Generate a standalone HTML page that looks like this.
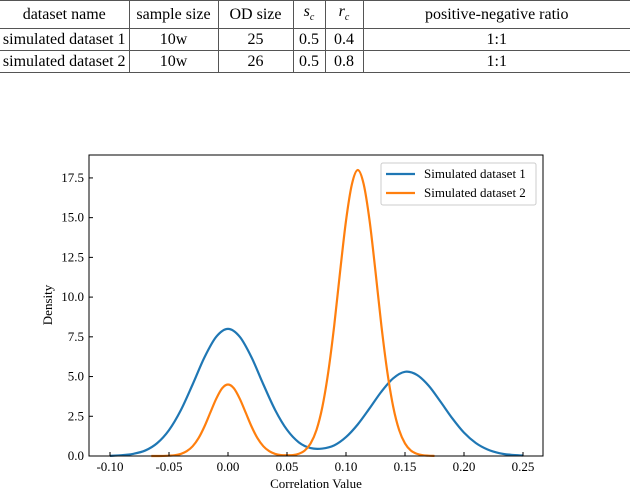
<!DOCTYPE html>
<html><head><meta charset="utf-8"><style>
body{margin:0;background:#fff;width:630px;height:490px;overflow:hidden;font-family:"Liberation Serif",serif;}
table{position:absolute;left:0;top:0;border-collapse:collapse;font-size:16px;table-layout:fixed;width:630px}
td{border:1px solid #555;border-top:none;text-align:center;padding:0;height:21px;line-height:21px;white-space:nowrap;overflow:hidden}
tr:first-child td{border-top:1px solid #555}
td:first-child{border-left:none}
td:last-child{border-right:none}
</style></head><body>
<table>
<colgroup><col style="width:129px"><col style="width:89px"><col style="width:75px"><col style="width:32px"><col style="width:38px"><col style="width:267px"></colgroup>
<tr><td>dataset name</td><td>sample size</td><td>OD size</td><td><i>s<sub style="font-size:10px">c</sub></i></td><td><i>r<sub style="font-size:10px">c</sub></i></td><td>positive-negative ratio</td></tr>
<tr><td>simulated dataset 1</td><td>10w</td><td>25</td><td>0.5</td><td>0.4</td><td>1:1</td></tr>
<tr><td>simulated dataset 2</td><td>10w</td><td>26</td><td>0.5</td><td>0.8</td><td>1:1</td></tr>
</table>
<svg id="chart" width="630" height="490" style="position:absolute;left:0;top:0"></svg>
<script>
const xTicks=[-0.10,-0.05,0.00,0.05,0.10,0.15,0.20,0.25];
const xTickLabels=["-0.10","-0.05","0.00","0.05","0.10","0.15","0.20","0.25"];
const yTicks=[0,2.5,5,7.5,10,12.5,15,17.5];
const yTickLabels=["0.0","2.5","5.0","7.5","10.0","12.5","15.0","17.5"];
const blueX=[-0.10,-0.09,-0.08,-0.07,-0.06,-0.05,-0.04,-0.03,-0.02,-0.01,0,0.01,0.02,0.03,0.04,0.05,0.06,0.07,0.08,0.09,0.10,0.11,0.12,0.13,0.14,0.15,0.16,0.17,0.18,0.19,0.20,0.21,0.22,0.23,0.24,0.25];
const blueY=[0.01,0.05,0.14,0.35,0.81,1.63,2.88,4.5,6.2,7.5,8.0,7.5,6.2,4.5,2.89,1.65,0.86,0.50,0.47,0.67,1.19,1.99,3.0,4.05,4.89,5.3,5.11,4.43,3.43,2.38,1.47,0.82,0.41,0.18,0.07,0.03];
const orangeX=[-0.065,-0.06,-0.055,-0.05,-0.045,-0.04,-0.035,-0.03,-0.025,-0.02,-0.015,-0.01,-0.005,0,0.005,0.01,0.015,0.02,0.025,0.03,0.035,0.04,0.045,0.05,0.055,0.06,0.065,0.07,0.075,0.08,0.085,0.09,0.095,0.10,0.105,0.11,0.115,0.12,0.125,0.13,0.135,0.14,0.145,0.15,0.155,0.16,0.165,0.17,0.175];
const orangeY=[0,0,0.005,0.02,0.05,0.13,0.30,0.61,1.12,1.85,2.73,3.6,4.26,4.5,4.26,3.6,2.73,1.85,1.12,0.61,0.30,0.13,0.06,0.05,0.06,0.14,0.34,0.79,1.64,3.1,5.3,8.2,11.6,14.8,17.1,18.0,17.1,14.8,11.6,8.2,5.3,3.1,1.64,0.79,0.34,0.14,0.05,0.02,0.005];
const L=89,R=543,T=155,B=456;
const sx=v=>228+v*1180;
const sy=v=>456-v*15.89;
const svg=document.getElementById('chart');
const NS='http://www.w3.org/2000/svg';
function mk(tag,attrs,parent){const e=document.createElementNS(NS,tag);for(const k in attrs)e.setAttribute(k,attrs[k]);(parent||svg).appendChild(e);return e;}
function path(xs,ys){const p=xs.map((x,i)=>[sx(x),sy(ys[i])]);let d='M'+p[0][0]+','+p[0][1];
for(let i=0;i<p.length-1;i++){const p0=p[Math.max(0,i-1)],p1=p[i],p2=p[i+1],p3=p[Math.min(p.length-1,i+2)];
d+=' C'+(p1[0]+(p2[0]-p0[0])/6)+','+(p1[1]+(p2[1]-p0[1])/6)+' '+(p2[0]-(p3[0]-p1[0])/6)+','+(p2[1]-(p3[1]-p1[1])/6)+' '+p2[0]+','+p2[1];}return d;}
let e;
e=mk('path',{d:path(blueX,blueY),fill:'none',stroke:'#1f77b4','stroke-width':2.2});


e=mk('path',{d:path(orangeX,orangeY),fill:'none',stroke:'#ff7f0e','stroke-width':2.2});


e=mk('rect',{x:L,y:T,width:R-L,height:B-T,fill:'none',stroke:'#000','stroke-width':1});


xTicks.forEach((t,i)=>{
 e=mk('line',{x1:sx(t),x2:sx(t),y1:B,y2:B-4,stroke:'#000'});
 
 
 e=mk('text',{x:sx(t),y:471,'text-anchor':'middle','font-size':13,'font-family':'Liberation Serif,serif'});e.textContent=xTickLabels[i];
 
 
});
yTicks.forEach((t,i)=>{
 e=mk('line',{x1:L,x2:L+4,y1:sy(t),y2:sy(t),stroke:'#000'});
 
 
 e=mk('text',{x:84,y:sy(t)+4,'text-anchor':'end','font-size':13,'font-family':'Liberation Serif,serif'});e.textContent=yTickLabels[i];
 
 
});
e=mk('text',{x:316,y:488,'text-anchor':'middle','font-size':13,'font-family':'Liberation Serif,serif'});e.textContent='Correlation Value';


e=mk('text',{x:0,y:0,'text-anchor':'middle','font-size':13,'font-family':'Liberation Serif,serif',transform:'translate(52,305) rotate(-90)'});e.textContent='Density';


const lg=mk('g',{});


mk('rect',{x:381,y:163,width:155,height:42,fill:'#fff',stroke:'#ccc',rx:2},lg);
[['Simulated dataset 1','#1f77b4',174],['Simulated dataset 2','#ff7f0e',193]].forEach(([n,c,y])=>{
 mk('line',{x1:386,x2:415,y1:y,y2:y,stroke:c,'stroke-width':2.2},lg);
 e=mk('text',{x:424,y:y+4,'font-size':13,'font-family':'Liberation Serif,serif'},lg);e.textContent=n;
 
 
});
</script>
</body></html>
